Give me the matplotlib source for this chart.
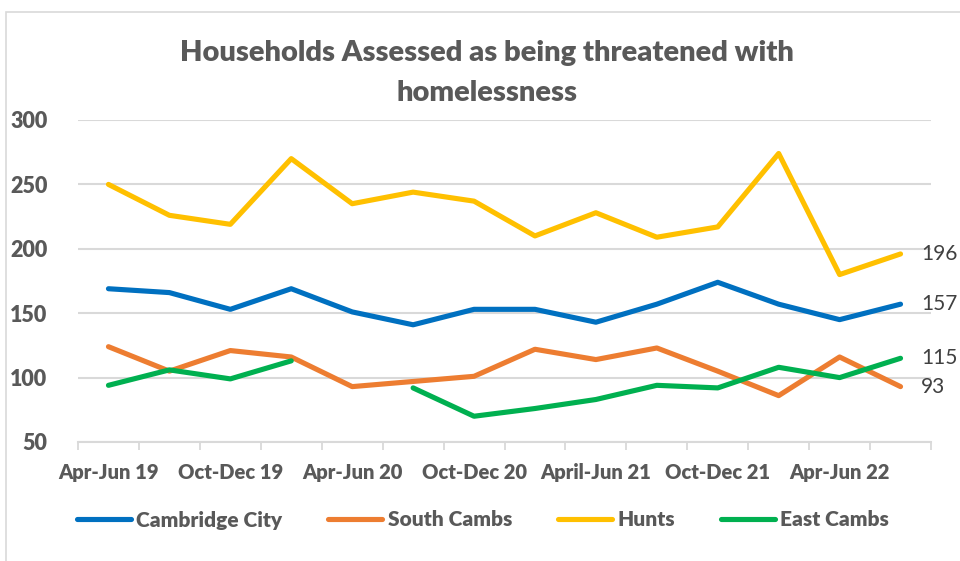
import numpy as np
import matplotlib
matplotlib.use("Agg")
import matplotlib.pyplot as plt
from matplotlib.patches import Rectangle
from matplotlib.lines import Line2D

quarters = ["Apr-Jun 19", "Jul-Sep 19", "Oct-Dec 19", "Jan-Mar 20", "Apr-Jun 20",
            "Jul-Sep 20", "Oct-Dec 20", "Jan-Mar 21", "April-Jun 21", "Jul-Sep 21",
            "Oct-Dec 21", "Jan-Mar 22", "Apr-Jun 22", "Jul-Sep 22"]
cambridge = [169, 166, 153, 169, 151, 141, 153, 153, 143, 157, 174, 157, 145, 157]
south_cambs = [124, 105, 121, 116, 93, 97, 101, 122, 114, 123, 105, 86, 116, 93]
hunts = [250, 226, 219, 270, 235, 244, 237, 210, 228, 209, 217, 274, 180, 196]
east_cambs = [94, 106, 99, 113, np.nan, 92, 70, 76, 83, 94, 92, 108, 100, 115]

title_lines = ["Households Assessed as being threatened with", "homelessness"]

series = [("Cambridge City", cambridge, "#0070C0"),
          ("South Cambs", south_cambs, "#ED7D31"),
          ("Hunts", hunts, "#FFC000"),
          ("East Cambs", east_cambs, "#00B050")]

plt.rcParams['font.family'] = ['Lato', 'DejaVu Sans']
txt = "#595959"
grid = "#D9D9D9"
bold = 'heavy'

fig = plt.figure(figsize=(9.6, 5.61), dpi=100)
ax = fig.add_axes([78/960, 1-442/561, (931-78)/960, (442-120)/561])

x = np.arange(len(quarters))
for name, vals, col in series:
    ax.plot(x, vals, color=col, lw=3.7, solid_capstyle='round', solid_joinstyle='round', label=name)
    ax.annotate(f"{vals[-1]:g}", (x[-1], vals[-1]), xytext=(15, 0), textcoords='offset points',
                va='center', ha='left', fontsize=15, color="#404040", fontweight='normal',
                annotation_clip=False)

ax.set_xlim(-0.5, len(quarters)-0.5)
ax.set_ylim(50, 300)
ax.set_yticks(np.arange(50, 301, 50))
ax.set_xticks(x[::2])
ax.set_xticklabels(quarters[::2])
ax.set_xticks(np.arange(-0.5, len(quarters), 1), minor=True)
ax.tick_params(axis='x', which='major', length=0, pad=15, labelsize=14.5, labelcolor=txt)
ax.tick_params(axis='x', which='minor', length=6, width=1.3, color=grid, direction='out')
ax.tick_params(axis='y', length=0, pad=22, labelsize=15.5, labelcolor=txt)
for lab in ax.get_xticklabels() + ax.get_yticklabels():
    lab.set_fontweight(bold)

ax.grid(axis='y', color=grid, lw=1.5)
ax.set_axisbelow(True)
for s in ['top', 'right', 'left']:
    ax.spines[s].set_visible(False)
ax.spines['bottom'].set_color(grid)
ax.spines['bottom'].set_linewidth(1.5)

# title as two lines at fixed heights
for line, ypx in zip(title_lines, [53, 93]):
    fig.text(487/960, 1-ypx/561, line, ha='center', va='center', fontsize=21,
             fontweight=bold, color=txt)

handles = [Line2D([0], [0], color=c, lw=3.7, solid_capstyle='round') for _, _, c in series]
leg = fig.legend(handles, [n for n, _, _ in series], loc='center', bbox_to_anchor=(0.503, 1-520/561),
                 ncol=4, frameon=False, fontsize=15, handlelength=2.6, handletextpad=0.25,
                 columnspacing=2.2)
for t in leg.get_texts():
    t.set_color(txt)
    t.set_fontweight(bold)

fig.patches.append(Rectangle((6/960, -0.1), 1.2, 1-12/561+0.1, transform=fig.transFigure,
                             fill=False, edgecolor=grid, lw=1.2))

fig.savefig("out.png", dpi=100)
